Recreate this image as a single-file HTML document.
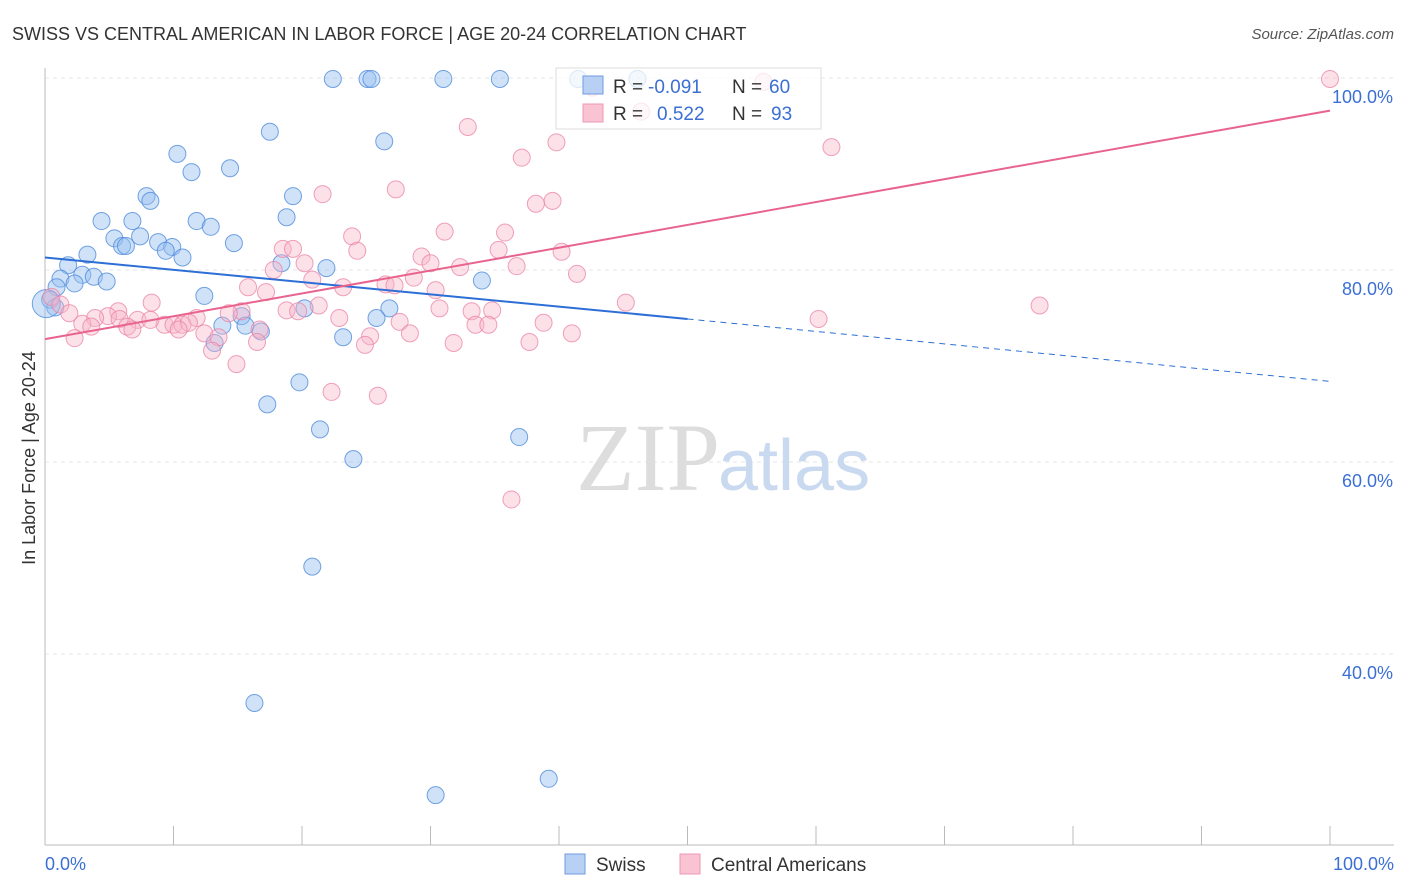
<!DOCTYPE html>
<html><head><meta charset="utf-8"><style>
body{margin:0;background:#fff;font-family:"Liberation Sans",sans-serif;}
svg{display:block}
</style></head><body>
<svg width="1406" height="892" id="chart">
<text x="12" y="40" font-size="18" fill="#333">SWISS VS CENTRAL AMERICAN IN LABOR FORCE | AGE 20-24 CORRELATION CHART</text>
<text x="1394" y="39" font-size="15" fill="#555" text-anchor="end" font-style="italic">Source: ZipAtlas.com</text>
<g id="grid"></g>
<text x="720" y="490" font-size="96" fill="#ddd" text-anchor="end" font-family="Liberation Serif,serif">ZIP</text>
<text x="718" y="490" font-size="72" fill="#c9d9ef">atlas</text>
<line x1="45" y1="68" x2="45" y2="845" stroke="#bbb"/>
<line x1="45" y1="845" x2="1394" y2="845" stroke="#bbb"/>
<g id="xticks"></g>
<g id="pts"></g>
<g id="lines"></g>
<text x="35" y="458" font-size="18" fill="#333" text-anchor="middle" transform="rotate(-90 35 458)">In Labor Force | Age 20-24</text>
<text x="45" y="870" font-size="18" fill="#3b6fd4">0.0%</text>
<text x="1394" y="870" font-size="18" fill="#3b6fd4" text-anchor="end">100.0%</text>
<g>
<rect x="556" y="68" width="265" height="61" fill="rgba(255,255,255,0.75)" stroke="#ddd"/>
<rect x="583" y="76" width="20" height="18" fill="#b8d0f4" stroke="#6f9be0"/>
<rect x="583" y="104" width="20" height="18" fill="#f9c3d3" stroke="#ee9ab3"/>
<text x="613" y="93" font-size="19" fill="#333">R =</text>
<text x="648" y="93" font-size="19" fill="#3b6fd4">-0.091</text>
<text x="732" y="93" font-size="19" fill="#333">N =</text>
<text x="769" y="93" font-size="19" fill="#3b6fd4">60</text>
<text x="613" y="120" font-size="19" fill="#333">R =</text>
<text x="657" y="120" font-size="19" fill="#3b6fd4">0.522</text>
<text x="732" y="120" font-size="19" fill="#333">N =</text>
<text x="771" y="120" font-size="19" fill="#3b6fd4">93</text>
</g>
<g>
<rect x="565" y="854" width="20" height="20" fill="#b8d0f4" stroke="#6f9be0"/>
<text x="596" y="871" font-size="19" fill="#333">Swiss</text>
<rect x="680" y="854" width="20" height="20" fill="#f9c3d3" stroke="#ee9ab3"/>
<text x="711" y="871" font-size="19" fill="#333">Central Americans</text>
</g>
</svg>
<script>
const yTicks=[100,80,60,40];
const swissPx=[[333,79],[368,79],[371,79],[443,79],[500,79],[578,79],[637,79],[270,132],[384,141],[177,154],[192,172],[230,168],[293,196],[146,196],[151,201],[101,221],[132,221],[196,221],[211,227],[287,217],[114,238],[140,236],[122,246],[126,246],[158,242],[172,247],[166,251],[234,243],[183,258],[88,255],[68,265],[326,268],[282,263],[60,279],[82,275],[94,277],[74,283],[107,282],[56,287],[482,281],[204,296],[50,300],[55,307],[304,308],[389,308],[376,318],[242,316],[222,326],[246,326],[261,331],[343,337],[214,343],[299,382],[267,404],[320,429],[519,437],[353,459],[312,567],[254,703],[549,779],[435,795]];
const centralPx=[[1330,79],[763,82],[592,88],[641,112],[468,127],[556,142],[522,158],[832,147],[396,189],[323,194],[553,201],[536,204],[445,232],[505,233],[352,236],[283,249],[293,249],[357,251],[561,252],[498,250],[421,257],[305,263],[430,263],[460,267],[517,266],[274,270],[577,274],[312,280],[386,284],[394,285],[414,278],[343,287],[248,287],[266,292],[436,290],[152,303],[52,297],[60,305],[70,313],[626,303],[1040,306],[286,310],[298,311],[319,306],[440,308],[472,311],[492,310],[241,311],[229,313],[197,318],[118,311],[108,316],[95,318],[120,319],[138,320],[82,324],[91,327],[127,327],[133,330],[164,325],[174,325],[183,325],[189,323],[150,320],[178,330],[204,333],[339,318],[400,322],[476,325],[488,325],[543,323],[819,319],[410,333],[259,330],[257,342],[370,336],[218,337],[212,351],[572,333],[530,342],[453,343],[365,345],[236,364],[332,392],[378,396],[512,499],[74,338]];
const swissX=swissPx.map(p=>+((p[0]-45)/12.85).toFixed(1));
const swissY=swissPx.map(p=>+(100-(p[1]-78)/9.6).toFixed(1));
const centralX=centralPx.map(p=>+((p[0]-45)/12.85).toFixed(1));
const centralY=centralPx.map(p=>+(100-(p[1]-78)/9.6).toFixed(1));
const swissLine=[81.3,74.9,68.4];
const centralLine=[72.8,null,96.6];
const NS="http://www.w3.org/2000/svg";
const X=v=>45+v*12.85, Y=v=>78+(100-v)*9.6;
function mk(t,a,parent){const e=document.createElementNS(NS,t);for(const k in a)e.setAttribute(k,a[k]);document.getElementById(parent).appendChild(e);return e;}
yTicks.forEach(t=>{
 const l=mk('line',{x1:45,x2:1394,y1:Y(t),y2:Y(t),stroke:'#e4e4e4','stroke-dasharray':'4,4'},'grid');
 
 
 const tx=mk('text',{x:1393,y:Y(t)+25,'font-size':18,fill:'#3b6fd4','text-anchor':'end'},'grid');
 tx.textContent=t.toFixed(1)+'%';
 
 
});
for(let i=1;i<=10;i++){const l=mk('line',{x1:X(i*10),x2:X(i*10),y1:826,y2:845,stroke:'#bbb'},'xticks');
 
 }
swissX.forEach((x,i)=>{const c=mk('circle',{cx:X(x),cy:Y(swissY[i]),r:8.5,fill:'rgba(150,190,240,0.45)',stroke:'rgba(80,140,220,0.8)','stroke-width':1},'pts');
 
 });
const big=mk('circle',{cx:X(0.1),cy:Y(76.5),r:14,fill:'rgba(150,190,240,0.45)',stroke:'rgba(80,140,220,0.8)'},'pts');


centralX.forEach((x,i)=>{const c=mk('circle',{cx:X(x),cy:Y(centralY[i]),r:8.5,fill:'rgba(248,180,200,0.4)',stroke:'rgba(235,130,165,0.75)','stroke-width':1},'pts');
 
 });
let l1=mk('line',{x1:X(0),y1:Y(swissLine[0]),x2:X(50),y2:Y(swissLine[1]),stroke:'#2d6fd6','stroke-width':2},'lines');


let l2=mk('line',{x1:X(50),y1:Y(swissLine[1]),x2:X(100),y2:Y(swissLine[2]),stroke:'#2d6fd6','stroke-width':1,'stroke-dasharray':'6,5'},'lines');


let l3=mk('line',{x1:X(0),y1:Y(centralLine[0]),x2:X(100),y2:Y(centralLine[2]),stroke:'#e8638e','stroke-width':2},'lines');


</script>
</body></html>
